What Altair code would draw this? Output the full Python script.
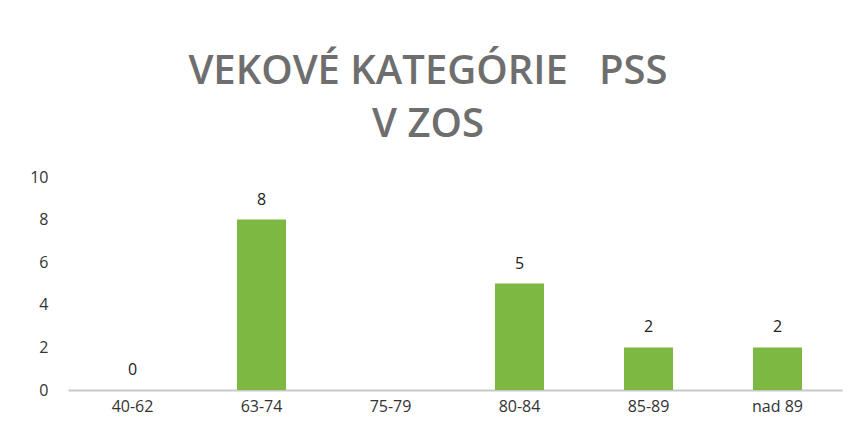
import altair as alt
import pandas as pd

categories = ["40-62", "63-74", "75-79", "80-84", "85-89", "nad 89"]
values = [0, 8, None, 5, 2, 2]
title_lines = ["VEKOVÉ KATEGÓRIE\u00a0\u00a0 PSS", "V ZOS"]
y_ticks = [0, 2, 4, 6, 8, 10]

df = pd.DataFrame({"cat": categories, "val": values})

x = alt.X("cat:N", sort=categories, title=None,
          scale=alt.Scale(paddingInner=0.62, paddingOuter=0.31),
          axis=alt.Axis(labelAngle=0, labelFontSize=16, labelColor="#333333",
                        labelFont="Open Sans", ticks=False, domainColor="#c8c8c8",
                        domainWidth=2, labelPadding=8, grid=False))
y = alt.Y("val:Q", title=None,
          scale=alt.Scale(domain=[0, 10]),
          axis=alt.Axis(values=y_ticks, labelFontSize=16, labelColor="#333333",
                        labelFont="Open Sans", ticks=False, domain=False, grid=False,
                        labelPadding=20))

bars = alt.Chart(df).mark_bar(color="#7cb842").encode(x=x, y=y)
labels = alt.Chart(df).transform_filter("datum.val != null").mark_text(
    baseline="bottom", dy=-12, fontSize=16, font="Open Sans", color="#222222"
).encode(x=x, y=y, text="val:Q")

chart = alt.layer(bars, labels).properties(
    width=774, height=213,
    background="white",
    autosize=alt.AutoSizeParams(type="none"),
    padding={"left": 60, "top": 169, "right": 10, "bottom": 40},
    title=alt.TitleParams(title_lines[0], subtitle=title_lines[1],
                          fontSize=40, font="Open Sans", fontWeight=600, color="#6e6e6e",
                          subtitleFontSize=40, subtitleFont="Open Sans", subtitleFontWeight=600,
                          subtitleColor="#6e6e6e", subtitlePadding=13,
                          anchor="middle", offset=24, dx=-27),
).configure_view(strokeWidth=0)

chart.save("out.html", embed_options={"renderer": "svg", "actions": False})
